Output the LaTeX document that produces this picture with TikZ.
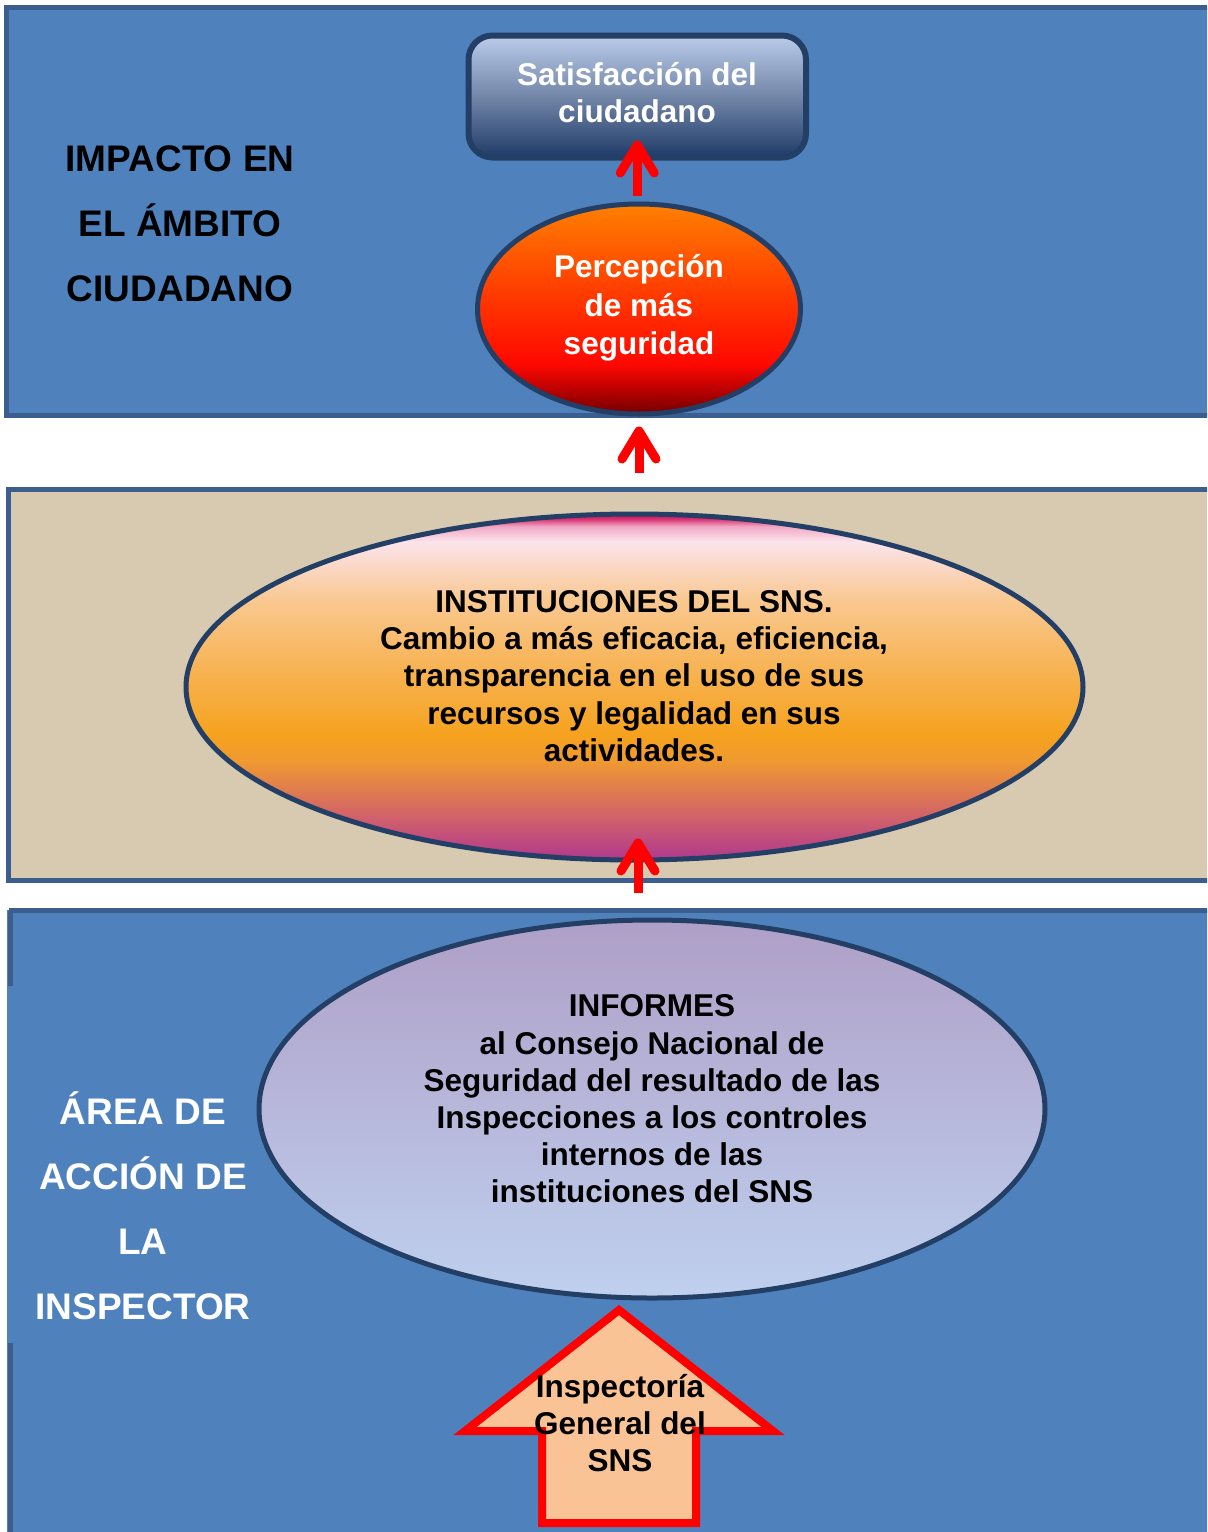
\documentclass[tikz,border=0pt]{standalone}
\usepackage{fontspec}
\setmainfont{Liberation Sans}
\usetikzlibrary{shapes.geometric,arrows.meta}
\definecolor{panelblue}{HTML}{4F81BD}
\definecolor{panelline}{HTML}{3B5E8E}
\definecolor{paneltan}{HTML}{D8CAB0}
\definecolor{navyline}{HTML}{243F66}
\definecolor{peach}{HTML}{F9C396}
% percepcion shading
\definecolor{pA}{HTML}{700000}
\definecolor{pB}{HTML}{B00000}
\definecolor{pC}{HTML}{FF0800}
\definecolor{pD}{HTML}{FF3000}
\definecolor{pE}{HTML}{FF5500}
\definecolor{pF}{HTML}{FF8000}
\pgfdeclareverticalshading{percshade}{100bp}{color(0bp)=(pA); color(25bp)=(pA); color(30bp)=(pB); color(37bp)=(pC); color(50bp)=(pD); color(62bp)=(pE); color(75bp)=(pF); color(100bp)=(pF)}
% instituciones shading
\definecolor{iA}{HTML}{B0388E}
\definecolor{iB}{HTML}{D0606C}
\definecolor{iC}{HTML}{F09A30}
\definecolor{iD}{HTML}{F6A21E}
\definecolor{iE}{HTML}{F7B04A}
\definecolor{iF}{HTML}{F9C890}
\definecolor{iG}{HTML}{FCE4EC}
\definecolor{iH}{HTML}{F0A8C4}
\definecolor{iI}{HTML}{D83070}
\definecolor{iJ}{HTML}{C8105A}
\pgfdeclareverticalshading{instshade}{100bp}{color(0bp)=(iA); color(25bp)=(iA); color(31bp)=(iB); color(39.5bp)=(iC); color(43bp)=(iD); color(51bp)=(iE); color(62.5bp)=(iF); color(71bp)=(iG); color(73.2bp)=(iH); color(74.3bp)=(iI); color(75bp)=(iJ); color(100bp)=(iJ)}
% informes shading
\definecolor{fA}{HTML}{BFD0EE}
\definecolor{fB}{HTML}{AF9FC7}
\pgfdeclareverticalshading{infoshade}{100bp}{color(0bp)=(fA); color(25bp)=(fA); color(75bp)=(fB); color(100bp)=(fB)}
% satisfaccion shading
\definecolor{sA}{HTML}{1F3B68}
\definecolor{sB}{HTML}{7286A8}
\definecolor{sC}{HTML}{BBCCEA}
\pgfdeclareverticalshading{satshade}{100bp}{color(0bp)=(sA); color(25bp)=(sA); color(50bp)=(sB); color(75bp)=(sC); color(100bp)=(sC)}

\begin{document}
\begin{tikzpicture}[x=0.5pt,y=-0.5pt,
  panel/.style={draw=panelline,line width=2.5pt},
  ell/.style={ellipse,draw=navyline,line width=2.5pt,inner sep=0pt},
  bodytext/.style={align=center,font=\bfseries\fontsize{15.75pt}{18.6pt}\selectfont,inner sep=0pt},
  sidetext/.style={align=center,font=\bfseries\fontsize{18.5pt}{32.5pt}\selectfont,inner sep=0pt},
  redarr/.style={draw=red,line width=4.5pt,-{Straight Barb[length=14pt,width=17pt,round]}}
]
\useasboundingbox (0,0) rectangle (1207,1532);
\clip (0,0) rectangle (1207,1532);
\fill[white] (0,0) rectangle (1207,1532);

% panels
\draw[panel,fill=panelblue] (6.5,7.5) rectangle (1220,415.5);
\draw[panel,fill=paneltan] (8.5,489.5) rectangle (1220,880.5);
\fill[panelblue] (7,910) rectangle (1220,1540);
\draw[panel] (9.25,910.5) -- (1220,910.5);
\draw[panel] (10.5,910.5) -- (10.5,986);
\draw[panel] (10.5,1343) -- (10.5,1540);

% side labels
\node[sidetext,text=black] (lab1) at (180,223.5) {IMPACTO EN\\EL ÁMBITO\\CIUDADANO};
\node[sidetext,text=white] (lab2) at (143,1205.5) {ÁREA DE\\ACCIÓN DE\\LA\\INSPECTOR};

% satisfaccion box
\node[rectangle,rounded corners=12pt,draw=navyline,line width=3pt,shade,shading=satshade,
  minimum width=168.75pt,minimum height=61pt,inner sep=0pt] (sat) at (637.25,96.5) {};
\node[bodytext,text=white,font=\bfseries\fontsize{15.75pt}{18.5pt}\selectfont] (sattext) at (637,92.5) {Satisfacción del\\ciudadano};

% percepcion ellipse
\node[ell,shade,shading=percshade,minimum width=161.5pt,minimum height=105pt] (perc) at (639,309) {};
\node[bodytext,text=white,font=\bfseries\fontsize{15.75pt}{19.25pt}\selectfont] (perctext) at (639,308) {Percepción\\de más\\seguridad};

% instituciones ellipse
\node[ell,shade,shading=instshade,minimum width=448.5pt,minimum height=173pt] (inst) at (634.5,687) {};
\node[bodytext,text=black] (insttext) at (634,676) {INSTITUCIONES DEL SNS.\\Cambio a más eficacia, eficiencia,\\transparencia en el uso de sus\\recursos y legalidad en sus\\actividades.};

% informes ellipse
\node[ell,shade,shading=infoshade,minimum width=393pt,minimum height=189pt] (info) at (652,1109) {};
\node[bodytext,text=black] (infotext) at (652,1099) {INFORMES\\al Consejo Nacional de\\Seguridad del resultado de las\\Inspecciones a los controles\\internos de las\\instituciones del SNS};

% inspectoria big arrow
\draw[draw=red,fill=peach,line width=4pt,miter limit=10]
  (619,1310) -- (773,1431) -- (696,1431) -- (696,1523) -- (542,1523) -- (542,1431) -- (465,1431) -- cycle;
\node[bodytext,text=black] (insp) at (620,1423) {Inspectoría\\General del\\SNS};

% connectors
\draw[redarr,shorten <=3pt,shorten >=-10pt] (perc.north -| sat.south) -- (sat.south);
\draw[redarr,shorten <=19.5pt,shorten >=5pt] (inst.north -| perc.south) -- (perc.south);
\draw[redarr,shorten <=12.5pt,shorten >=-12pt] ([xshift=1.75pt]info.north -| inst.south) -- ([xshift=1.75pt]inst.south);
\end{tikzpicture}
\end{document}
